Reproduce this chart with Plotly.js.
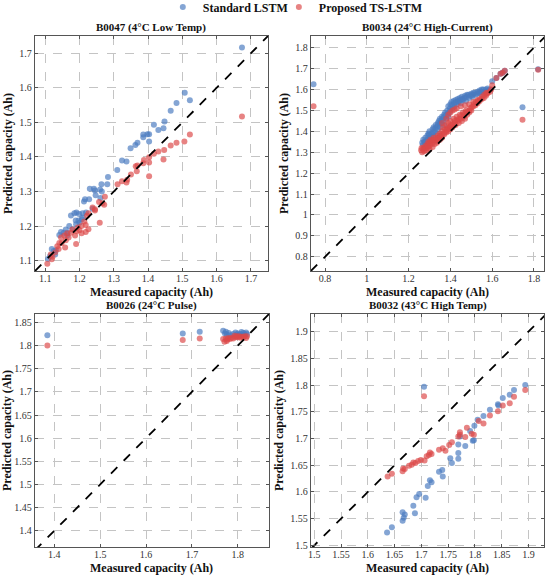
<!DOCTYPE html>
<html>
<head>
<meta charset="utf-8">
<script src="https://cdn.plot.ly/plotly-3.0.1.min.js"></script>
<style>html,body{margin:0;padding:0;background:#fff;}#chart{width:550px;height:578px;}</style>
</head>
<body>
<div id="chart"></div>
<script>
// ---------- Data: [measured, predicted] ----------
const seriesNames = ["Standard LSTM", "Proposed TS-LSTM"];
const panelTitles = ["B0047 (4°C Low Temp)", "B0034 (24°C High-Current)", "B0026 (24°C Pulse)", "B0032 (43°C High Temp)"];
const xTitle = "Measured capacity (Ah)";
const yTitle = "Predicted capacity (Ah)";

const p1Ticks = [1.1,1.2,1.3,1.4,1.5,1.6,1.7];
const p2XTicks = [0.8,1,1.2,1.4,1.6,1.8];
const p2YTicks = [0.8,0.9,1,1.1,1.2,1.3,1.4,1.5,1.6,1.7,1.8];
const p3XTicks = [1.4,1.5,1.6,1.7,1.8];
const p3YTicks = [1.4,1.45,1.5,1.55,1.6,1.65,1.7,1.75,1.8,1.85];
const p4Ticks = [1.5,1.55,1.6,1.65,1.7,1.75,1.8,1.85,1.9];

const p1Standard = [
[1.674,1.717],[1.507,1.586],[1.522,1.564],[1.483,1.556],[1.466,1.534],[1.448,1.503],[1.445,1.483],[1.430,1.478],
[1.417,1.493],[1.403,1.466],[1.398,1.466],[1.386,1.457],[1.386,1.465],[1.403,1.445],[1.369,1.441],[1.363,1.435],
[1.349,1.425],[1.337,1.387],[1.324,1.390],[1.310,1.362],[1.283,1.342],[1.264,1.321],[1.281,1.321],[1.260,1.306],
[1.242,1.308],[1.230,1.308],[1.245,1.303],[1.261,1.281],[1.247,1.289],[1.216,1.278],[1.228,1.278],[1.213,1.271],
[1.191,1.239],[1.185,1.237],[1.199,1.235],[1.209,1.237],[1.219,1.239],[1.197,1.216],[1.189,1.216],[1.207,1.220],
[1.175,1.231],[1.146,1.183],[1.141,1.174],[1.154,1.181],[1.164,1.173],[1.131,1.130],[1.119,1.134],[1.125,1.128],
[1.114,1.113],[1.108,1.105],[1.129,1.118],[1.160,1.190],[1.170,1.200],[1.180,1.190],[1.165,1.180],[1.190,1.205],
[1.200,1.210],[1.210,1.225],[1.265,1.300],[1.238,1.250]
];
const p1Proposed = [
[1.674,1.517],[1.522,1.465],[1.506,1.445],[1.483,1.441],[1.466,1.433],[1.447,1.420],[1.445,1.393],[1.430,1.416],
[1.417,1.409],[1.403,1.399],[1.403,1.384],[1.388,1.391],[1.386,1.382],[1.403,1.344],[1.369,1.375],[1.364,1.373],
[1.367,1.359],[1.350,1.349],[1.339,1.334],[1.324,1.330],[1.311,1.321],[1.337,1.326],[1.274,1.285],[1.257,1.270],
[1.267,1.266],[1.259,1.210],[1.238,1.254],[1.245,1.249],[1.226,1.237],[1.222,1.230],[1.214,1.213],[1.218,1.203],
[1.206,1.200],[1.226,1.191],[1.218,1.183],[1.187,1.173],[1.191,1.185],[1.195,1.196],[1.200,1.188],[1.156,1.173],
[1.164,1.179],[1.168,1.167],[1.160,1.159],[1.146,1.167],[1.148,1.151],[1.141,1.151],[1.135,1.142],[1.190,1.148],
[1.158,1.138],[1.139,1.134],[1.129,1.124],[1.119,1.104],[1.106,1.091],[1.116,1.118],[1.121,1.111],[1.175,1.181],
[1.179,1.190],[1.245,1.245],[1.206,1.179],[1.272,1.262]
];

const p2Standard = [
[1.265,1.345],[1.270,1.360],[1.275,1.350],[1.280,1.370],[1.285,1.340],[1.290,1.380],[1.290,1.360],[1.295,1.390],
[1.300,1.370],[1.300,1.400],[1.305,1.355],[1.310,1.390],[1.315,1.410],[1.320,1.380],[1.320,1.420],[1.325,1.400],
[1.330,1.430],[1.335,1.390],[1.340,1.440],[1.340,1.410],[1.345,1.450],[1.350,1.420],[1.350,1.460],[1.355,1.440],
[1.360,1.470],[1.365,1.450],[1.370,1.480],[1.370,1.430],[1.375,1.490],[1.380,1.460],[1.385,1.500],[1.390,1.470],
[1.390,1.520],[1.395,1.490],[1.400,1.530],[1.400,1.500],[1.405,1.540],[1.410,1.510],[1.415,1.545],[1.420,1.520],
[1.425,1.550],[1.430,1.530],[1.435,1.555],[1.440,1.540],[1.445,1.560],[1.450,1.535],[1.455,1.565],[1.460,1.550],
[1.470,1.570],[1.475,1.545],[1.480,1.575],[1.490,1.560],[1.500,1.580],[1.505,1.565],[1.510,1.585],[1.520,1.575],
[1.530,1.590],[1.540,1.595],[1.545,1.580],[1.550,1.600],[1.560,1.590],[1.570,1.600],[1.580,1.595],[1.590,1.600],
[1.268,1.335],[1.278,1.345],[1.288,1.355],[1.298,1.385],[1.308,1.375],[1.318,1.395],[1.328,1.415],[1.338,1.425],
[1.348,1.435],[1.358,1.455],[1.368,1.465],[1.378,1.475],[1.388,1.485],[1.398,1.510],[1.408,1.525],[1.418,1.535],
[1.428,1.540],[1.438,1.545],[1.448,1.550],[1.458,1.555],[1.468,1.560],[1.478,1.565],[1.488,1.575],[1.498,1.570],
[1.508,1.575],[1.518,1.585],[1.528,1.580],[1.538,1.585],[1.548,1.590],[1.558,1.600],[1.568,1.590],[1.578,1.605],
[1.600,1.640],[1.620,1.655],[1.640,1.675],[1.650,1.680],[1.660,1.690],[0.745,1.625],[1.745,1.515],[1.820,1.697]
];
const p2Proposed = [
[1.260,1.310],[1.265,1.300],[1.270,1.320],[1.275,1.305],[1.280,1.330],[1.285,1.310],[1.290,1.340],[1.290,1.320],
[1.295,1.350],[1.300,1.315],[1.300,1.330],[1.305,1.360],[1.310,1.340],[1.315,1.325],[1.320,1.350],[1.320,1.370],
[1.325,1.340],[1.330,1.360],[1.335,1.345],[1.340,1.380],[1.340,1.355],[1.345,1.370],[1.350,1.390],[1.350,1.360],
[1.355,1.380],[1.360,1.400],[1.360,1.370],[1.365,1.420],[1.370,1.385],[1.375,1.410],[1.380,1.395],[1.380,1.430],
[1.385,1.410],[1.390,1.400],[1.390,1.440],[1.395,1.420],[1.400,1.410],[1.400,1.450],[1.405,1.430],[1.410,1.420],
[1.415,1.460],[1.420,1.440],[1.425,1.430],[1.430,1.470],[1.435,1.450],[1.440,1.440],[1.445,1.480],[1.450,1.460],
[1.455,1.450],[1.460,1.490],[1.465,1.470],[1.470,1.460],[1.475,1.500],[1.480,1.480],[1.490,1.490],[1.495,1.510],
[1.500,1.500],[1.510,1.520],[1.520,1.525],[1.530,1.535],[1.540,1.545],[1.550,1.555],[1.560,1.560],[1.570,1.570],
[1.575,1.580],[1.580,1.585],[1.590,1.590],[1.595,1.600],[1.600,1.620],[1.410,1.500],[1.430,1.510],[1.450,1.520],
[1.470,1.525],[1.490,1.530],[1.510,1.540],[1.530,1.550],
[1.262,1.320],[1.272,1.315],[1.282,1.320],[1.292,1.330],[1.302,1.345],[1.312,1.355],[1.322,1.360],[1.332,1.370],
[1.342,1.365],[1.352,1.375],[1.362,1.385],[1.372,1.395],[1.382,1.405],[1.392,1.415],[1.402,1.425],[1.412,1.435],
[1.422,1.450],[1.432,1.455],[1.442,1.460],[1.452,1.475],[1.462,1.480],[1.472,1.490],[1.482,1.495],[1.492,1.500],
[1.502,1.515],[1.512,1.530],[1.522,1.540],[1.532,1.545],[1.542,1.555],[1.552,1.565],[1.562,1.575],[1.572,1.585],
[1.360,1.440],[1.380,1.460],[1.390,1.480],[1.400,1.490],[1.420,1.505],
[1.620,1.655],[1.640,1.675],[1.650,1.680],[1.660,1.690],[0.745,1.520],[1.745,1.455],[1.820,1.695]
];

const p3Standard = [
[1.385,1.822],[1.680,1.826],[1.717,1.830],[1.768,1.832],[1.772,1.826],[1.776,1.824],[1.780,1.827],[1.784,1.822],
[1.790,1.825],[1.795,1.828],[1.798,1.824],[1.800,1.826],[1.803,1.822],[1.806,1.825],[1.810,1.823],[1.812,1.827],
[1.815,1.824],[1.818,1.828],[1.820,1.825],[1.774,1.830],[1.808,1.829]
];
const p3Proposed = [
[1.385,1.800],[1.680,1.812],[1.717,1.815],[1.768,1.814],[1.771,1.808],[1.774,1.815],[1.777,1.813],[1.780,1.816],
[1.783,1.814],[1.787,1.817],[1.790,1.815],[1.795,1.818],[1.798,1.820],[1.800,1.818],[1.803,1.820],[1.806,1.817],
[1.809,1.819],[1.812,1.818],[1.815,1.820],[1.818,1.816],[1.820,1.820],[1.793,1.821],[1.776,1.810]
];

const p4Standard = [
[1.705,1.797],[1.894,1.800],[1.873,1.791],[1.865,1.782],[1.852,1.776],[1.843,1.764],[1.844,1.762],[1.828,1.754],
[1.816,1.742],[1.805,1.735],[1.799,1.724],[1.798,1.697],[1.796,1.696],[1.791,1.714],[1.782,1.686],[1.772,1.704],
[1.769,1.689],[1.769,1.673],[1.769,1.662],[1.754,1.663],[1.757,1.654],[1.740,1.629],[1.739,1.641],[1.733,1.638],
[1.716,1.622],[1.719,1.618],[1.712,1.611],[1.696,1.596],[1.691,1.590],[1.708,1.589],[1.685,1.574],[1.688,1.560],
[1.665,1.562],[1.669,1.558],[1.667,1.552],[1.665,1.546],[1.645,1.534],[1.636,1.524]
];
const p4Proposed = [
[1.705,1.779],[1.894,1.791],[1.873,1.778],[1.865,1.766],[1.852,1.762],[1.843,1.751],[1.828,1.743],[1.816,1.728],
[1.807,1.733],[1.798,1.707],[1.794,1.709],[1.785,1.720],[1.782,1.703],[1.772,1.707],[1.769,1.704],[1.772,1.712],
[1.757,1.693],[1.752,1.688],[1.745,1.677],[1.740,1.682],[1.733,1.679],[1.719,1.671],[1.714,1.669],[1.716,1.674],
[1.710,1.667],[1.706,1.659],[1.699,1.660],[1.694,1.658],[1.685,1.655],[1.689,1.654],[1.682,1.651],[1.677,1.649],
[1.666,1.644],[1.665,1.639],[1.669,1.643],[1.645,1.634],[1.637,1.629]
];

// ---------- Styling / layout ----------
const FONT = "'Liberation Serif', 'Times New Roman', serif";
const BLUE = "rgb(74,122,192)";
const RED = "rgb(220,72,72)";
const panels = [
  {data:[p1Standard,p1Proposed], xr:[1.07,1.75], yr:[1.07,1.75], xt:p1Ticks, yt:p1Ticks, dx:[0.0636,0.4873], dy:[0.5311,0.9377]},
  {data:[p2Standard,p2Proposed], xr:[0.733,1.848], yr:[0.732,1.856], xt:p2XTicks, yt:p2YTicks, dx:[0.5655,0.9891], dy:[0.5311,0.9377]},
  {data:[p3Standard,p3Proposed], xr:[1.358,1.868], yr:[1.365,1.868], xt:p3XTicks, yt:p3YTicks, dx:[0.0636,0.4891], dy:[0.0536,0.4567]},
  {data:[p4Standard,p4Proposed], xr:[1.494,1.929], yr:[1.497,1.933], xt:p4Ticks, yt:p4Ticks, dx:[0.5655,0.9891], dy:[0.0536,0.4567]}
];

const legendFont = {family:FONT, size:12, color:"#111"};
const traces = [];
const layout = {
  width:550, height:578,
  margin:{l:0,r:0,t:0,b:0, autoexpand:false},
  paper_bgcolor:"#fff", plot_bgcolor:"#fff",
  font:{family:FONT, color:"#222"},
  showlegend:true,
  legend:{orientation:"h", xref:"container", yref:"container", x:0.296, xanchor:"left", y:0.988, yanchor:"middle",
          font:legendFont, bgcolor:"rgba(0,0,0,0)"},
  legend2:{orientation:"h", xref:"container", yref:"container", x:0.507, xanchor:"left", y:0.988, yanchor:"middle",
          font:legendFont, bgcolor:"rgba(0,0,0,0)"},
  annotations:[]
};

panels.forEach((p,i)=>{
  const sfx = i===0 ? "" : String(i+1);
  const xa = "x"+sfx, ya = "y"+sfx;
  [BLUE,RED].forEach((c,k)=>{
    traces.push({
      type:"scatter", mode:"markers",
      x:p.data[k].map(d=>d[0]), y:p.data[k].map(d=>d[1]),
      xaxis:xa, yaxis:ya,
      name:"<b>"+seriesNames[k]+"</b>",
      legend: k===0 ? "legend" : "legend2",
      legendgroup:"s"+k, showlegend:i===0,
      marker:{color:c, size:6, opacity:0.68, line:{width:0}}
    });
  });
  const lo = Math.min(p.xr[0],p.yr[0]), hi = Math.max(p.xr[1],p.yr[1]);
  traces.push({type:"scatter", mode:"lines", x:[lo,hi], y:[lo,hi], xaxis:xa, yaxis:ya,
    showlegend:false, hoverinfo:"skip", line:{color:"#000", width:1.8, dash:"dash"}});

  const common = {
    showline:true, mirror:"allticks", linecolor:"#555", linewidth:1.3,
    ticks:"inside", ticklen:3, tickcolor:"#555",
    showgrid:true, gridcolor:"#c4c4c4", griddash:"dash", gridwidth:1,
    zeroline:false, automargin:false, tickmode:"array",
    tickfont:{family:FONT, size:10, color:"#333"}
  };
  layout["xaxis"+sfx] = Object.assign({}, common, {
    domain:p.dx, range:p.xr, tickvals:p.xt, ticktext:p.xt.map(String), anchor:ya, ticklabelstandoff:-2
  });
  layout["yaxis"+sfx] = Object.assign({}, common, {
    domain:p.dy, range:p.yr, tickvals:p.yt, ticktext:p.yt.map(String), anchor:xa,
    title:{text:"<b>"+yTitle+"</b>", font:{family:FONT,size:12,color:"#111"}, standoff:4}
  });
  const cx = (p.dx[0]+p.dx[1])/2;
  layout.annotations.push({
    text:"<b>"+panelTitles[i]+"</b>", xref:"paper", yref:"paper",
    x:cx, y:p.dy[1], yanchor:"bottom", xanchor:"center", yshift:0,
    showarrow:false, font:{family:FONT, size:11, color:"#111"}
  });
  layout.annotations.push({
    text:"<b>"+xTitle+"</b>", xref:"paper", yref:"paper",
    x:cx, y:p.dy[0], yanchor:"top", xanchor:"center", yshift:-12,
    showarrow:false, font:{family:FONT, size:12, color:"#111"}
  });
});

Plotly.newPlot("chart", traces, layout, {displayModeBar:false, staticPlot:true});
</script>
</body>
</html>
